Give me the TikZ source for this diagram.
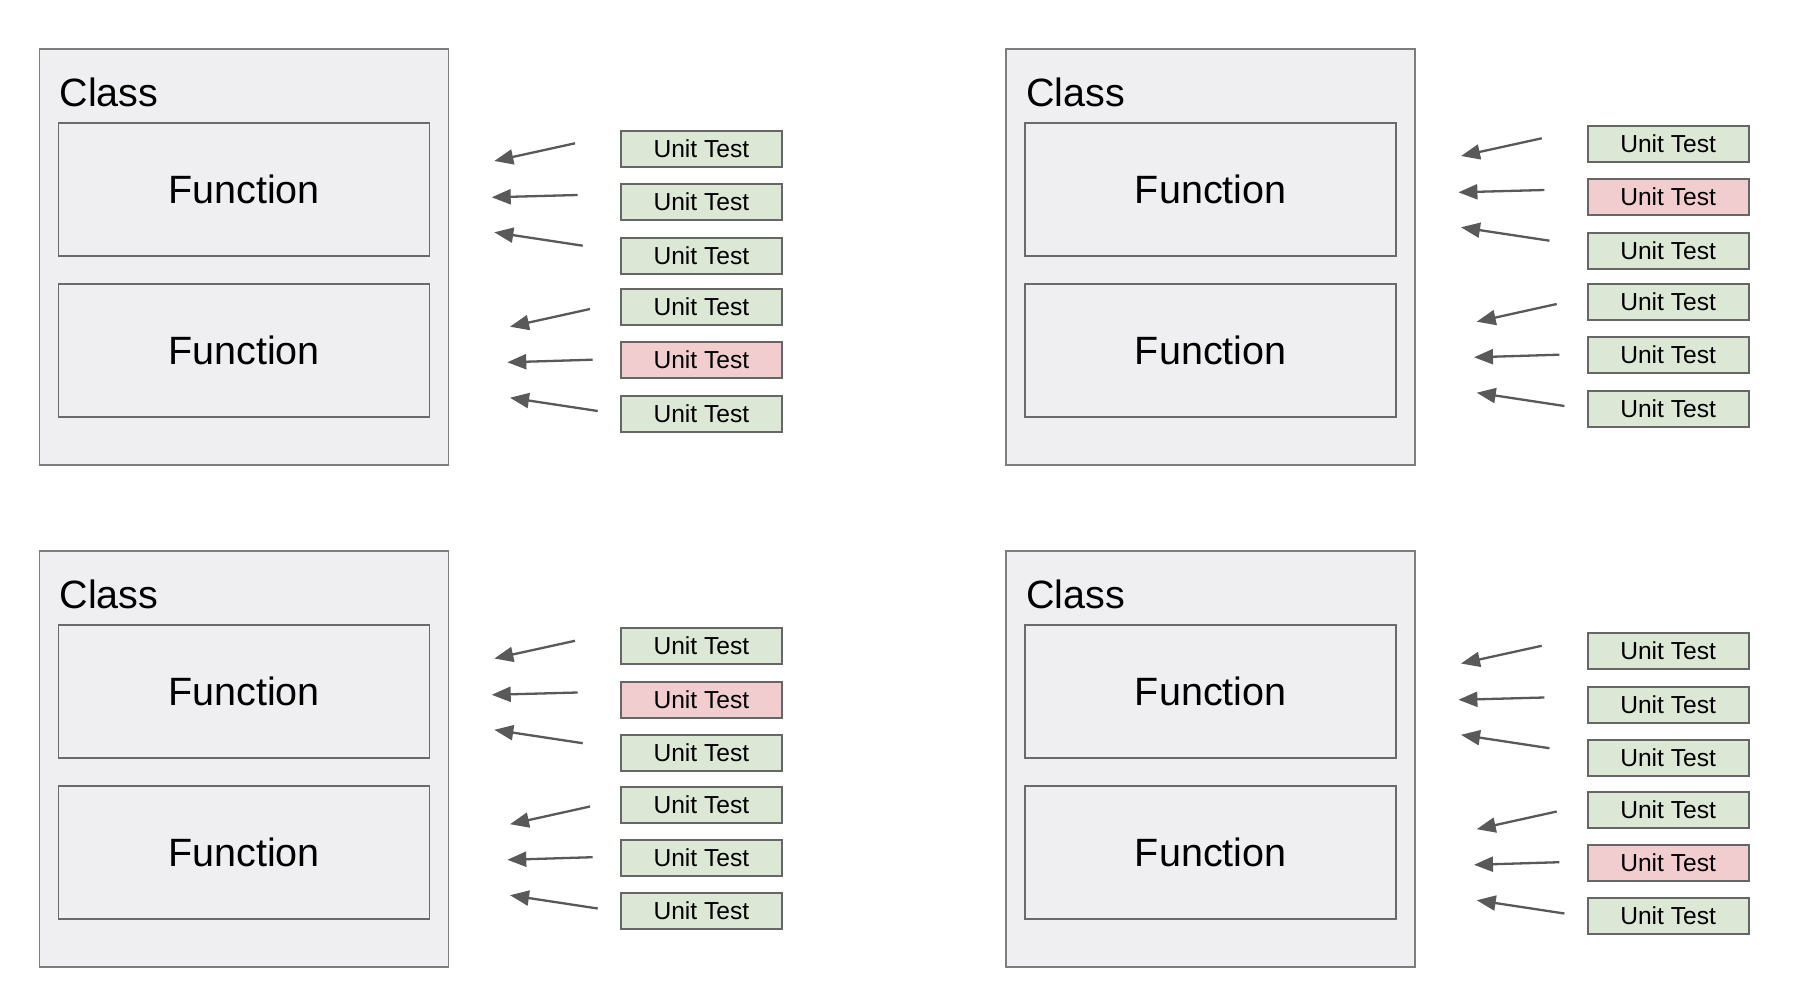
\documentclass[tikz,border=0pt]{standalone}
\usepackage{fontspec}
\setmainfont{Liberation Sans}
\usepackage{xcolor}
\usetikzlibrary{positioning, arrows.meta}

\definecolor{classfill}{HTML}{EFEEF1}
\definecolor{classline}{HTML}{7D7D7D}
\definecolor{funcline}{HTML}{6A6A6A}
\definecolor{testgreen}{HTML}{DCE8D5}
\definecolor{testred}{HTML}{F2CDD0}
\definecolor{testline}{HTML}{666666}
\definecolor{arrowgray}{HTML}{595959}

\begin{document}
\begin{tikzpicture}[
    x=1pt, y=-1pt,
    classbox/.style={draw=classline, fill=classfill, line width=1.8pt, minimum width=409pt, minimum height=416pt, inner sep=0pt},
    classlabel/.style={anchor=base west, inner sep=0pt, text=black, font=\fontsize{39.5pt}{45pt}\selectfont},
    func/.style={draw=funcline, line width=1.8pt, minimum width=371pt, minimum height=133pt, inner sep=0pt, text=black, font=\fontsize{39.5pt}{45pt}\selectfont},
    unittest/.style={draw=testline, line width=2pt, minimum width=161pt, minimum height=36pt, inner sep=0pt, text=black, font=\fontsize{24.6pt}{29pt}\selectfont},
    arrow/.style={-{Triangle[length=19pt, width=15pt]}, line width=2.3pt, draw=arrowgray, fill=arrowgray}
]
    \useasboundingbox[fill=white] (0,0) rectangle (1800,998);

    % --- four panels: name / shift / shift of the tests / failing test ---
    \foreach \p/\dx/\dy/\tdy/\bad in {tl/0/0/0/5, tr/966.7/0/-5/2, bl/0/502/-4.5/2, br/966.7/502/0.5/5}{
        \begin{scope}[shift={(\dx,\dy)}]
            \node[classbox] (class-\p) at (244,257.3) {};
            \node[classlabel] (classname-\p) at (59.5,106.5) {Class};
            \node[func] (funa-\p) at (244,189.8) {Function};
            \node[func] (funb-\p) at (244,350.2) {Function};

            % Unit tests and their arrows
            \begin{scope}[shift={(0,\tdy)}]
                \foreach \i/\ty/\sx/\sy/\ex/\ey in {1/148.7/575/143.3/494.3/161,
                                                    2/202/577.7/195/491.7/197.3,
                                                    3/255.5/582.7/245.7/494.3/232.3,
                                                    4/307/590/309/510/326.7,
                                                    5/360/592.7/359.7/507.3/362.3,
                                                    6/413.5/597.7/411/510/397.7}{
                    \ifnum\i=\bad \def\utfill{testred}\else \def\utfill{testgreen}\fi
                    \node[unittest, fill=\utfill] (test-\p-\i) at (701.4,\ty) {Unit Test};
                    \coordinate (from-\p-\i) at (\sx,\sy);
                    \coordinate (to-\p-\i) at (\ex,\ey);
                    \draw[arrow] (from-\p-\i) -- (to-\p-\i);
                }
            \end{scope}
        \end{scope}
    }
\end{tikzpicture}
\end{document}
